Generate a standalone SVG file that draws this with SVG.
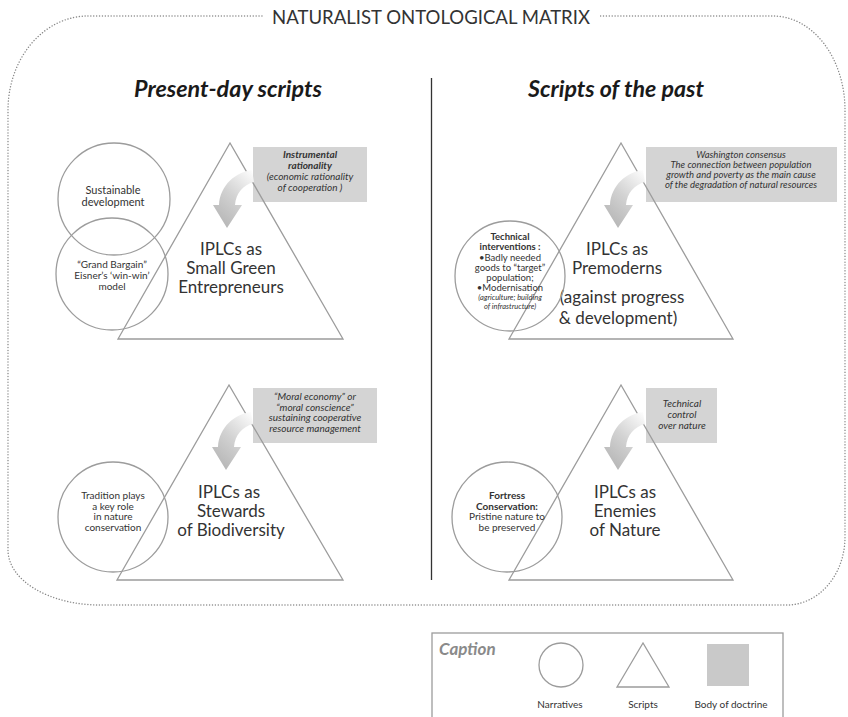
<svg xmlns="http://www.w3.org/2000/svg" xmlns:xlink="http://www.w3.org/1999/xlink" width="848" height="717" viewBox="0 0 848 717">
<style>
.frame{fill:none;stroke:#8a8a8a;stroke-width:1.4;stroke-dasharray:0.1 2.8;stroke-linecap:round}
.tri{fill:none;stroke:#9c9c9c;stroke-width:1.3;stroke-linejoin:miter}
.circ{fill:none;stroke:#9c9c9c;stroke-width:1.3}
.box{fill:#d4d4d4}
.t{font-family:Lato,"Open Sans",sans-serif;fill:#333;text-anchor:middle}
.big{font-size:17px}
.sm{font-size:10px}
.bi{font-style:italic;font-weight:bold}
.it{font-style:italic}
.b{font-weight:bold}
.head{font-family:Lato,"Open Sans",sans-serif;font-size:23px;font-weight:bold;font-style:italic;fill:#1a1a1a;text-anchor:middle}
</style>
<defs>
<linearGradient id="ag" x1="1" y1="0" x2="0.35" y2="1">
<stop offset="0" stop-color="#ffffff"/>
<stop offset="0.55" stop-color="#d2d2d2"/>
<stop offset="1" stop-color="#b8b8b8"/>
</linearGradient>
<path id="arr" d="M 22,27 C 6,29 -10,42 -11,62 L -17,62 L -3,85 L 12,62 L 5,62 C 6,50 13,42 24,39 Z" fill="url(#ag)"/>
</defs>

<g id="frame">
<path class="frame" d="M 262,16 L 88,16 A 80 94 0 0 0 8,110 L 8,550 A 92 55 0 0 0 100,605 L 787,605 A 58 68 0 0 0 845,537 L 845,110 A 72 94 0 0 0 773,16 L 600,16"/>
<text x="431" y="24" font-family="Lato,'Open Sans',sans-serif" font-size="20" fill="#333" text-anchor="middle" textLength="318" lengthAdjust="spacingAndGlyphs">NATURALIST ONTOLOGICAL MATRIX</text>
</g>

<g id="divider">
<line x1="431.5" y1="78" x2="431.5" y2="580" stroke="#333" stroke-width="1.3"/>
</g>

<g id="headers">
<text class="head" x="228" y="97" textLength="188" lengthAdjust="spacingAndGlyphs">Present-day scripts</text>
<text class="head" x="616" y="97" textLength="176" lengthAdjust="spacingAndGlyphs">Scripts of the past</text>
</g>

<g id="doctrine-1">
<rect class="box" x="253" y="147" width="114" height="55"/>
<text class="t sm bi" x="310" y="158">Instrumental</text>
<text class="t sm bi" x="310" y="169">rationality</text>
<text class="t sm it" x="310" y="180">(economic rationality</text>
<text class="t sm it" x="310" y="191">of cooperation )</text>
</g>
<g id="doctrine-2">
<rect class="box" x="646" y="147" width="191" height="55"/>
<text class="t it" font-size="9.5" x="741" y="158">Washington consensus</text>
<text class="t it" font-size="9.5" x="741" y="168">The connection between population</text>
<text class="t it" font-size="9.5" x="741" y="178">growth and poverty as the main cause</text>
<text class="t it" font-size="9.5" x="741" y="188">of the degradation of natural resources</text>
</g>
<g id="doctrine-3">
<rect class="box" x="253" y="388" width="124" height="55"/>
<text class="t sm it" x="315" y="400">“Moral economy” or</text>
<text class="t sm it" x="315" y="410.5">“moral conscience”</text>
<text class="t sm it" x="315" y="421">sustaining cooperative</text>
<text class="t sm it" x="315" y="431.5">resource management</text>
</g>
<g id="doctrine-4">
<rect class="box" x="646" y="388" width="71" height="55"/>
<text class="t sm it" x="682" y="407">Technical</text>
<text class="t sm it" x="682" y="418">control</text>
<text class="t sm it" x="682" y="429">over nature</text>
</g>

<g id="script-entrepreneurs">
<polygon class="tri" points="230,143 118,339 343,339"/>
<use xlink:href="#arr" href="#arr" x="230" y="143"/>
<text class="t big" x="231" y="255">IPLCs as</text>
<text class="t big" x="231" y="274">Small Green</text>
<text class="t big" x="231" y="293">Entrepreneurs</text>
</g>
<g id="script-premoderns">
<polygon class="tri" points="621,143 509,339 733,339"/>
<use xlink:href="#arr" href="#arr" x="621" y="143"/>
<text class="t big" x="617" y="255">IPLCs as</text>
<text class="t big" x="617" y="274">Premoderns</text>
<text class="t big" x="622" y="303">(against progress</text>
<text class="t big" x="618" y="324">&amp; development)</text>
</g>
<g id="script-stewards">
<polygon class="tri" points="229,385 117,580 343,580"/>
<use xlink:href="#arr" href="#arr" x="229" y="385"/>
<text class="t big" x="229" y="498">IPLCs as</text>
<text class="t big" x="231" y="517">Stewards</text>
<text class="t big" x="231" y="536">of Biodiversity</text>
</g>
<g id="script-enemies">
<polygon class="tri" points="621,385 509,580 733,580"/>
<use xlink:href="#arr" href="#arr" x="621" y="385"/>
<text class="t big" x="625" y="498">IPLCs as</text>
<text class="t big" x="625" y="517">Enemies</text>
<text class="t big" x="625" y="536">of Nature</text>
</g>

<g id="narrative-sustainable">
<circle class="circ" cx="114" cy="199" r="56"/>
<text class="t" font-size="11" x="113" y="194">Sustainable</text>
<text class="t" font-size="11" x="113" y="206">development</text>
</g>
<g id="narrative-grand-bargain">
<circle class="circ" cx="112" cy="274" r="56"/>
<text class="t sm" x="112" y="268">“Grand Bargain”</text>
<text class="t sm" x="112" y="279">Eisner’s ‘win-win’</text>
<text class="t sm" x="112" y="290">model</text>
</g>
<g id="narrative-technical">
<circle class="circ" cx="510" cy="276" r="55"/>
<text class="t b" font-size="9.5" x="510" y="240">Technical</text>
<text class="t b" font-size="9.5" x="510" y="250">interventions :</text>
<text class="t" font-size="9.5" x="510" y="260.5">•Badly needed</text>
<text class="t" font-size="9.5" x="510" y="270.5">goods to “target”</text>
<text class="t" font-size="9.5" x="510" y="280.5">population;</text>
<text class="t" font-size="9.5" x="510" y="290.5">•Modernisation</text>
<text class="t it" font-size="7.5" x="510" y="300">(agriculture; building</text>
<text class="t it" font-size="7.5" x="510" y="309">of infrastructure)</text>
</g>
<g id="narrative-tradition">
<circle class="circ" cx="113" cy="517" r="55"/>
<text class="t sm" x="113" y="499">Tradition plays</text>
<text class="t sm" x="113" y="509.5">a key role</text>
<text class="t sm" x="113" y="520">in nature</text>
<text class="t sm" x="113" y="530.5">conservation</text>
</g>
<g id="narrative-fortress">
<circle class="circ" cx="507" cy="517" r="55"/>
<text class="t sm b" x="507" y="499">Fortress</text>
<text class="t sm b" x="507" y="509.5">Conservation:</text>
<text class="t sm" x="507" y="520">Pristine nature to</text>
<text class="t sm" x="507" y="530.5">be preserved</text>
</g>

<g id="caption">
<rect x="432" y="633" width="351" height="100" fill="#fff" stroke="#9c9c9c" stroke-width="1.3"/>
<text x="439" y="655" font-family="Lato,'Open Sans',sans-serif" font-size="17" font-weight="bold" font-style="italic" fill="#8a8a8a">Caption</text>
<circle class="circ" cx="561" cy="665" r="22"/>
<polygon class="tri" points="643,643 617,687 669,687"/>
<rect x="707" y="644" width="42" height="42" fill="#c9c9c9"/>
<text class="t sm" x="560" y="708">Narratives</text>
<text class="t sm" x="643" y="708">Scripts</text>
<text class="t sm" x="731" y="708">Body of doctrine</text>
</g>
</svg>
